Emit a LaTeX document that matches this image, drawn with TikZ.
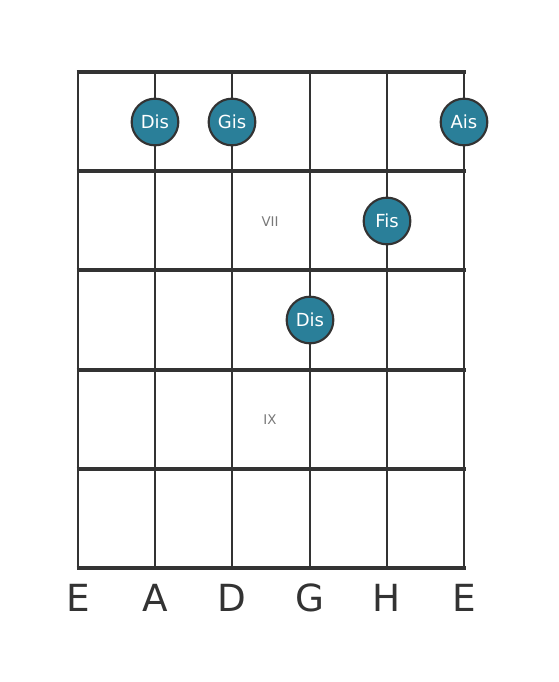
\documentclass[tikz,border=0pt]{standalone}
\usepackage{fontspec}
\setmainfont{DejaVu Sans}
\usetikzlibrary{positioning}
\definecolor{gridgray}{RGB}{51,51,51}
\definecolor{dotblue}{RGB}{42,127,153}
\definecolor{numgray}{RGB}{120,120,120}

\begin{document}
\begin{tikzpicture}[x=0.75pt,y=-0.75pt]
    \tikzstyle{note}=[circle,draw=gridgray,line width=1.6pt,fill=dotblue,text=white,inner sep=0pt,minimum size=35pt,font=\fontsize{13.5}{14}\selectfont]
    \tikzstyle{fretnum}=[text=numgray,font=\fontsize{10}{11}\selectfont]
    \tikzstyle{stringname}=[text=gridgray,font=\fontsize{28}{30}\selectfont]
    \useasboundingbox (0,0) rectangle (559,682);
    % strings
    \foreach \x in {78,155,232,310,387,464}
        \draw[gridgray,line width=2.2pt] (\x,72) -- (\x,568);
    % frets
    \foreach \y in {72,171,270,370,469,568}
        \draw[gridgray,line width=3.4pt] (76.5,\y) -- (465.5,\y);
    % position marks
    \node[fretnum] (vii) at (270,222) {VII};
    \node[fretnum] (ix) at (270,420) {IX};
    % notes
    \node[note] (dis1) at (155,122) {Dis};
    \node[note] (gis) at (232,122) {Gis};
    \node[note] (ais) at (464,122) {Ais};
    \node[note] (fis) at (387,221) {Fis};
    \node[note] (dis2) at (310,320) {Dis};
    % string names
    \node[stringname] (s1) at (78,598) {E};
    \node[stringname] (s2) at (155,598) {A};
    \node[stringname] (s3) at (232,598) {D};
    \node[stringname] (s4) at (310,598) {G};
    \node[stringname] (s5) at (387,598) {H};
    \node[stringname] (s6) at (464,598) {E};
\end{tikzpicture}
\end{document}
